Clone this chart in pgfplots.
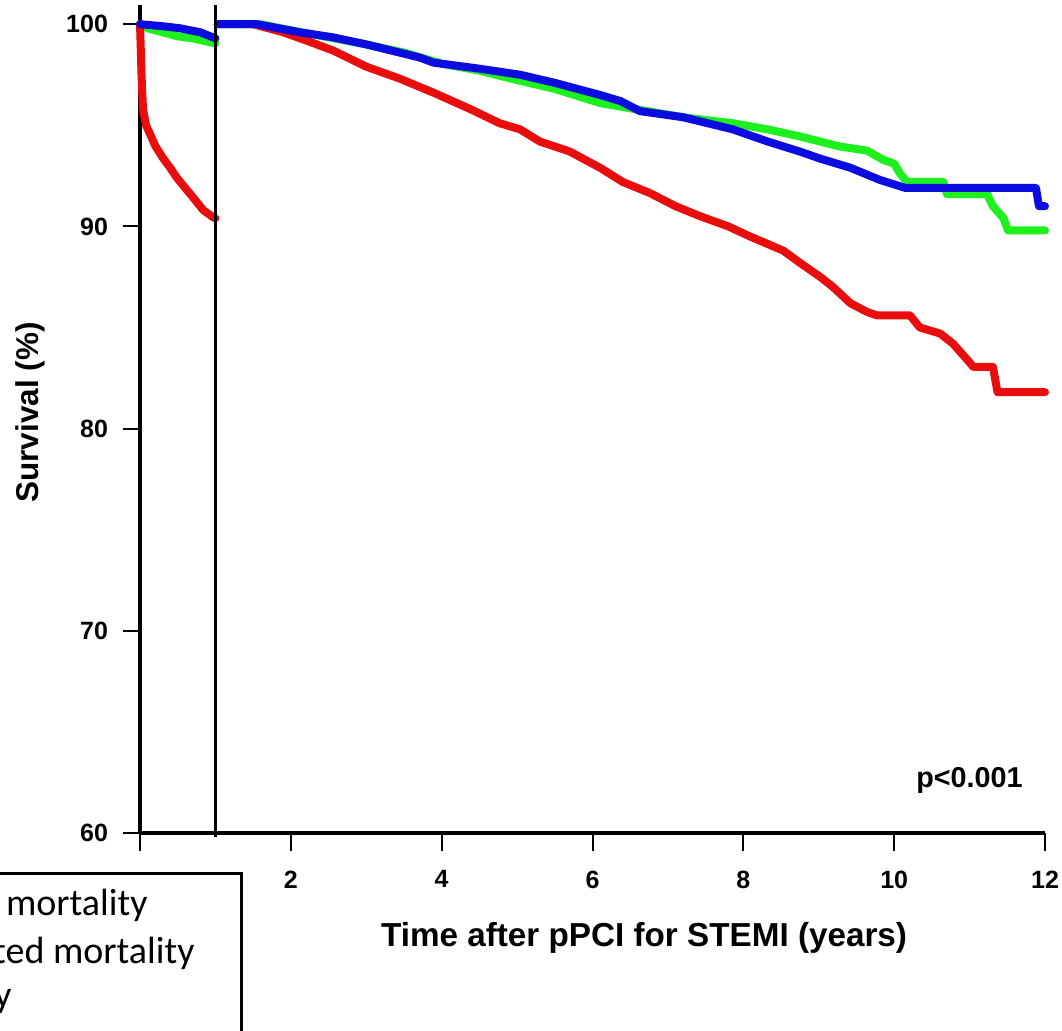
\documentclass[border=0pt]{standalone}
\usepackage{fontspec}
\setmainfont{Liberation Sans}
\newfontfamily\legfont{Carlito}
\usepackage{pgfplots}
\pgfplotsset{compat=1.18}
\definecolor{kmred}{RGB}{232,14,14}
\definecolor{kmgreen}{RGB}{30,240,30}
\definecolor{kmblue}{RGB}{12,12,225}

\begin{document}
\begin{tikzpicture}
% picture frame: 1 px of the reference = 0.4pt, origin at the axis corner
\useasboundingbox (-56pt,-78.8pt) rectangle (368.8pt,333.2pt);
\clip (-56pt,-78.8pt) rectangle (368.8pt,333.2pt);
\begin{axis}[
    scale only axis, width=362pt, height=331.2pt,
    at={(0,0)}, anchor=south west,
    xmin=0, xmax=12, ymin=60, ymax=100.95,
    axis x line=bottom, axis y line=left,
    axis line style={-, line width=1.5pt},
    xtick={0,2,...,12}, xticklabels={,2,4,6,8,10,12},
    ytick={60,70,...,100},
    tick align=outside, major tick length=7pt,
    tick style={line width=0.8pt, black},
    ticklabel style={font=\bfseries\fontsize{10}{12}\selectfont},
    xticklabel style={yshift=-4.5pt},
    yticklabel style={xshift=-2.3pt},
    /pgf/number format/assume math mode=true,
    xlabel={Time after pPCI for STEMI (years)},
    xlabel style={font=\bfseries\fontsize{13.3}{16}\selectfont,
        at={(axis description cs:0.557,-0.1075)}, anchor=north, inner sep=0pt},
    ylabel={Survival (\%)},
    ylabel style={font=\bfseries\fontsize{12.6}{15}\selectfont,
        at={(axis description cs:-0.1215,0.508)}, anchor=center, inner sep=0pt},
    clip=false,
    every axis plot/.append style={line width=3.2pt, line join=round, line cap=round},
]
% expected (green)
\addplot[kmgreen] coordinates {(0,100)(0.1,99.8)(0.3,99.6)(0.5,99.4)(0.7,99.3)(1.0,99.05)};
\addplot[kmgreen] coordinates {
  (1.03,100)(1.6,100)(2.0,99.7)(2.5,99.35)(3.0,99.0)(3.5,98.6)(4.0,98.05)(4.5,97.7)
  (5.04,97.2)(5.5,96.8)(6.1,96.1)(6.63,95.76)(7.2,95.4)(7.86,95.1)(8.32,94.8)(8.75,94.45)
  (9.28,93.95)(9.64,93.75)(9.85,93.3)(10.0,93.1)(10.08,92.6)(10.17,92.2)(10.65,92.2)
  (10.70,91.6)(11.23,91.6)(11.31,91.0)(11.45,90.4)(11.51,89.8)(12,89.8)};
% observed (red)
\addplot[kmred] coordinates {(0,100)(0.01,98.8)(0.02,97.5)(0.04,95.8)(0.08,95.0)(0.13,94.6)
  (0.2,94.0)(0.3,93.4)(0.4,92.9)(0.49,92.4)(0.6,91.9)(0.7,91.45)(0.84,90.8)(0.97,90.45)(1.0,90.4)};
\addplot[kmred] coordinates {
  (1.03,100)(1.5,100)(1.9,99.6)(2.2,99.2)(2.56,98.7)(3.0,97.9)(3.45,97.3)(3.9,96.6)
  (4.38,95.8)(4.77,95.1)(5.04,94.8)(5.3,94.2)(5.7,93.7)(6.1,92.9)(6.4,92.2)(6.76,91.65)
  (7.1,91.0)(7.43,90.5)(7.8,90.0)(8.09,89.5)(8.53,88.8)(8.75,88.2)(9.02,87.5)(9.19,87.0)
  (9.42,86.2)(9.64,85.77)(9.77,85.6)(10.21,85.6)(10.34,85.0)(10.61,84.7)(10.78,84.2)
  (10.97,83.4)(11.05,83.05)(11.31,83.05)(11.37,81.8)(12,81.8)};
% blue
\addplot[kmblue] coordinates {(0,100)(0.3,99.9)(0.53,99.8)(0.8,99.6)(1.0,99.3)};
\addplot[kmblue] coordinates {
  (1.03,100)(1.55,100)(2.12,99.6)(2.56,99.35)(3.0,99.0)(3.71,98.35)(3.89,98.1)(4.5,97.8)
  (5.04,97.5)(5.5,97.1)(6.1,96.5)(6.37,96.2)(6.63,95.7)(7.2,95.4)(7.86,94.8)(8.32,94.2)
  (8.75,93.7)(9.02,93.35)(9.42,92.9)(9.81,92.3)(10.15,91.9)(11.88,91.9)(11.92,91.0)(12,91.0)};
\draw[line width=1.3pt] (axis cs:1,59.8) -- (axis cs:1,100.95);
\node[anchor=base east, inner sep=0pt, font=\bfseries\fontsize{11.5}{14}\selectfont]
  at (axis cs:11.71,62.27) {p<0.001};
\end{axis}
% legend box, cut off by the picture edge
\draw[line width=1.2pt] (-120pt,-16pt) -- (40.4pt,-16pt) -- (40.4pt,-120pt);
\begin{scope}[every node/.style={anchor=base east, inner sep=0pt,
    font=\legfont\fontsize{15.2}{18}\selectfont}]
\node at (3.2pt,-32.8pt) {mortality};
\node at (22pt,-52pt) {ted mortality};
\node at (-51.2pt,-69.6pt) {y};
\end{scope}
\end{tikzpicture}
\end{document}
